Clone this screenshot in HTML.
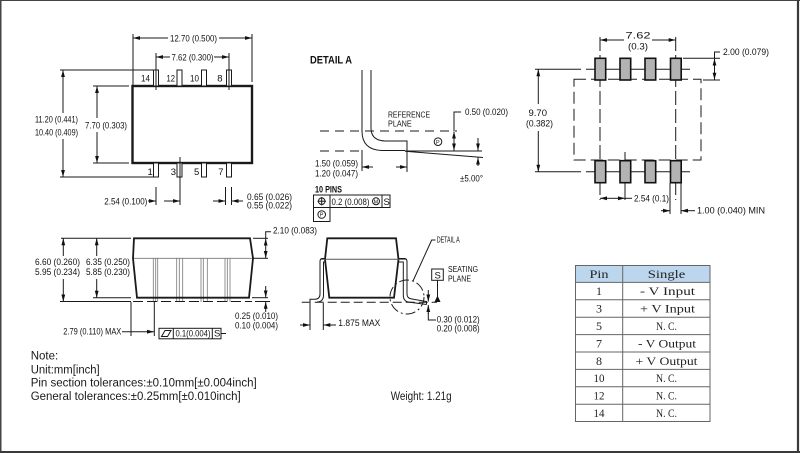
<!DOCTYPE html>
<html><head><meta charset="utf-8"><style>
html,body{margin:0;padding:0;background:#fff;}
svg{display:block;}
.d{font-family:"Liberation Sans",Arial,sans-serif;font-size:9.5px;fill:#111;}
.s{font-family:"Liberation Sans",Arial,sans-serif;font-size:8px;fill:#111;}
.n{font-family:"Liberation Sans",Arial,sans-serif;font-size:11.5px;fill:#1a1a1a;}
.t{font-family:"Liberation Serif","Liberation Mono",serif;font-size:12px;fill:#222;}
.l{stroke:#1a1a1a;stroke-width:1;fill:none;}
.g{stroke:#777;stroke-width:0.8;fill:none;}
</style></head><body>
<svg width="800" height="453" viewBox="0 0 800 453" xmlns="http://www.w3.org/2000/svg">
<defs>
<marker id="a" markerUnits="userSpaceOnUse" markerWidth="7" markerHeight="5" refX="7" refY="2.5" orient="auto-start-reverse"><path d="M0,0.6 L7,2.5 L0,4.4z" fill="#111"/></marker>
</defs>
<rect x="0" y="0" width="800" height="453" fill="#fff"/>
<!-- page frame -->
<line x1="0.75" y1="0" x2="0.75" y2="453" stroke="#444" stroke-width="1.5"/>
<line x1="0" y1="0.5" x2="800" y2="0.5" stroke="#444" stroke-width="1"/>
<line x1="798" y1="0" x2="798" y2="453" stroke="#3a3a3a" stroke-width="2.2"/>
<line x1="0" y1="452" x2="800" y2="452" stroke="#3a3a3a" stroke-width="2"/>

<!-- ============ TOP-LEFT VIEW ============ -->
<g class="l">
<rect x="132.5" y="86" width="119.5" height="77" stroke-width="2.4"/>
<rect x="153.5" y="70" width="5" height="16" fill="#fff"/>
<rect x="177" y="70" width="5" height="16" fill="#fff"/>
<rect x="201.5" y="70" width="5" height="16" fill="#fff"/>
<rect x="226.5" y="70" width="5" height="16" fill="#fff"/>
<rect x="153.5" y="163" width="5" height="14" fill="#fff"/>
<rect x="177" y="163" width="5" height="14" fill="#fff"/>
<rect x="201.5" y="163" width="5" height="14" fill="#fff"/>
<rect x="226.5" y="163" width="5" height="14" fill="#fff"/>
<line x1="133" y1="34" x2="133" y2="86"/>
<line x1="252" y1="34" x2="252" y2="82"/>
<line x1="168" y1="38" x2="133" y2="38" marker-end="url(#a)"/>
<line x1="219" y1="38" x2="252" y2="38" marker-end="url(#a)"/>
<line x1="156" y1="53" x2="156" y2="90"/>
<line x1="229" y1="53" x2="229" y2="90"/>
<line x1="170" y1="57" x2="156" y2="57" marker-end="url(#a)"/>
<line x1="214" y1="57" x2="229" y2="57" marker-end="url(#a)"/>
<line x1="60" y1="70" x2="153" y2="70"/>
<line x1="60" y1="177" x2="153" y2="177"/>
<line x1="63" y1="113" x2="63" y2="70" marker-end="url(#a)"/>
<line x1="63" y1="139" x2="63" y2="177" marker-end="url(#a)"/>
<line x1="93" y1="86" x2="129" y2="86"/>
<line x1="93" y1="163" x2="129" y2="163"/>
<line x1="97" y1="118" x2="97" y2="86" marker-end="url(#a)"/>
<line x1="97" y1="132" x2="97" y2="163" marker-end="url(#a)"/>
<line x1="156" y1="187" x2="156" y2="205"/>
<line x1="180" y1="157" x2="180" y2="205"/>
<line x1="148" y1="201" x2="156" y2="201" marker-end="url(#a)"/>
<line x1="164" y1="201" x2="180" y2="201" marker-end="url(#a)"/>
<line x1="225.5" y1="187" x2="225.5" y2="205"/>
<line x1="231.5" y1="187" x2="231.5" y2="205"/>
<line x1="213" y1="201" x2="225.5" y2="201" marker-end="url(#a)"/>
<line x1="243" y1="201" x2="231.5" y2="201" marker-end="url(#a)"/>
</g>
<text class="d" x="170" y="41.5" textLength="47" lengthAdjust="spacingAndGlyphs">12.70 (0.500)</text>
<text class="d" x="171.5" y="60.5" textLength="42" lengthAdjust="spacingAndGlyphs">7.62 (0.300)</text>
<text class="d" x="141" y="81.7" textLength="9" lengthAdjust="spacingAndGlyphs">14</text>
<text class="d" x="166.5" y="81.7" textLength="8.5" lengthAdjust="spacingAndGlyphs">12</text>
<text class="d" x="190" y="81.7" textLength="9" lengthAdjust="spacingAndGlyphs">10</text>
<text class="d" x="217.3" y="81.7">8</text>
<text class="d" x="147.5" y="175">1</text>
<text class="d" x="170.7" y="175">3</text>
<text class="d" x="194" y="175">5</text>
<text class="d" x="218.3" y="175">7</text>
<text class="d" x="35" y="122.5" textLength="43" lengthAdjust="spacingAndGlyphs">11.20 (0.441)</text>
<text class="d" x="35" y="135.5" textLength="43" lengthAdjust="spacingAndGlyphs">10.40 (0.409)</text>
<text class="d" x="85" y="128.5" textLength="42" lengthAdjust="spacingAndGlyphs">7.70 (0.303)</text>
<text class="d" x="104.3" y="204.5" textLength="43" lengthAdjust="spacingAndGlyphs">2.54 (0.100)</text>
<text class="d" x="247" y="200" textLength="45" lengthAdjust="spacingAndGlyphs">0.65 (0.026)</text>
<text class="d" x="247" y="208.5" textLength="45" lengthAdjust="spacingAndGlyphs">0.55 (0.022)</text>

<!-- ============ DETAIL A ============ -->
<text x="310" y="63.5" textLength="42" lengthAdjust="spacingAndGlyphs" style="font-family:'Liberation Sans',Arial,sans-serif;font-size:11px;font-weight:bold;fill:#111;">DETAIL A</text>
<g class="l">
<path d="M362,70 V131 Q362,150 382,150.5 H405"/>
<path d="M371,70 V128 Q371,140.5 385,141 H407 V152"/>
<line x1="320" y1="131" x2="457" y2="131" stroke-dasharray="9,6"/>
<line x1="320" y1="151" x2="362" y2="151" stroke-dasharray="9,6"/>
<line x1="405" y1="151" x2="482" y2="151"/>
<line x1="405" y1="151.3" x2="483" y2="157.5"/>
<circle cx="438" cy="141.7" r="3.8"/>
<path d="M461,112 H454 V131"/>
<line x1="454" y1="141" x2="454" y2="131.5" marker-end="url(#a)"/>
<line x1="454" y1="141" x2="454" y2="150.5" marker-end="url(#a)"/>
<line x1="478" y1="138" x2="478" y2="150.5" marker-end="url(#a)"/>
<line x1="478" y1="166" x2="478" y2="157.5" marker-end="url(#a)"/>
<line x1="362" y1="150" x2="362" y2="171"/>
<line x1="407" y1="152" x2="407" y2="172"/>
<line x1="373" y1="167" x2="362" y2="167" marker-end="url(#a)"/>
<line x1="396" y1="167" x2="407" y2="167" marker-end="url(#a)"/>
<rect x="313.5" y="195" width="76.5" height="12.5"/>
<line x1="330" y1="195" x2="330" y2="207.5"/>
<line x1="382" y1="195" x2="382" y2="207.5"/>
<rect x="313.5" y="207.5" width="16.5" height="14"/>
<circle cx="321.7" cy="201.2" r="3.3"/>
<line x1="317.5" y1="201.2" x2="326" y2="201.2"/>
<line x1="321.7" y1="197" x2="321.7" y2="205.4"/>
<circle cx="376" cy="201.3" r="3.5"/>
<circle cx="321.7" cy="214.5" r="3.8"/>
</g>
<text x="436" y="143.8" style="font-family:'Liberation Sans',sans-serif;font-size:5.5px;fill:#111;">P</text>
<text x="319.8" y="216.6" style="font-family:'Liberation Sans',sans-serif;font-size:5.5px;fill:#111;">P</text>
<text x="373.6" y="203.4" style="font-family:'Liberation Sans',sans-serif;font-size:5.5px;fill:#111;">M</text>
<text class="s" x="388" y="117.7" textLength="42" lengthAdjust="spacingAndGlyphs">REFERENCE</text>
<text class="s" x="388" y="126.5" textLength="23.7" lengthAdjust="spacingAndGlyphs">PLANE</text>
<text class="d" x="465" y="115" textLength="43" lengthAdjust="spacingAndGlyphs">0.50 (0.020)</text>
<text class="d" x="315" y="166.5" textLength="43" lengthAdjust="spacingAndGlyphs">1.50 (0.059)</text>
<text class="d" x="315" y="176.5" textLength="43" lengthAdjust="spacingAndGlyphs">1.20 (0.047)</text>
<text class="d" x="460" y="181.5" textLength="23" lengthAdjust="spacingAndGlyphs">±5.00°</text>
<text x="315" y="192.5" textLength="27" lengthAdjust="spacingAndGlyphs" style="font-family:'Liberation Sans',sans-serif;font-size:9px;font-weight:bold;fill:#111;">10 PINS</text>
<text class="d" x="331.5" y="205" textLength="38" lengthAdjust="spacingAndGlyphs">0.2 (0.008)</text>
<text class="d" x="383.5" y="205">S</text>

<!-- ============ TOP-RIGHT FOOTPRINT ============ -->
<g class="l">
<line x1="600" y1="37" x2="600" y2="200" stroke-dasharray="14,4"/>
<line x1="675.7" y1="37" x2="675.7" y2="200" stroke-dasharray="14,4"/>
<line x1="625" y1="152" x2="625" y2="200"/>
<line x1="535" y1="69.3" x2="581" y2="69.3"/>
<line x1="586" y1="69.3" x2="690" y2="69.3"/>
<line x1="535" y1="171.7" x2="581" y2="171.7"/>
<line x1="586" y1="171.7" x2="690" y2="171.7"/>
<rect x="574" y="79.3" width="127" height="80.7" stroke-dasharray="12,5"/>
</g>
<g stroke="#111" stroke-width="1.6" fill="#b3b3b3">
<rect x="595" y="58.3" width="10.7" height="21.7"/>
<rect x="620" y="58.3" width="10.7" height="21.7"/>
<rect x="645" y="58.3" width="10.7" height="21.7"/>
<rect x="670.5" y="58.3" width="10.7" height="21.7"/>
<rect x="595" y="160.7" width="10.7" height="22"/>
<rect x="620" y="160.7" width="10.7" height="22"/>
<rect x="645" y="160.7" width="10.7" height="22"/>
<rect x="670.5" y="160.7" width="10.7" height="22"/>
</g>
<g class="l">
<line x1="624" y1="40" x2="600" y2="40" marker-end="url(#a)"/>
<line x1="652" y1="40" x2="675.7" y2="40" marker-end="url(#a)"/>
<line x1="683" y1="58.3" x2="720" y2="58.3"/>
<line x1="703" y1="80" x2="720" y2="80"/>
<path d="M720,52 H714.5 V58"/>
<line x1="714.5" y1="69" x2="714.5" y2="58.6" marker-end="url(#a)"/>
<line x1="714.5" y1="69" x2="714.5" y2="79.7" marker-end="url(#a)"/>
<line x1="538.3" y1="104" x2="538.3" y2="69.3" marker-end="url(#a)"/>
<line x1="538.3" y1="131" x2="538.3" y2="171.7" marker-end="url(#a)"/>
<line x1="612" y1="198.3" x2="600" y2="198.3" marker-end="url(#a)"/>
<line x1="612" y1="198.3" x2="625" y2="198.3" marker-end="url(#a)"/>
<line x1="625" y1="198.3" x2="632" y2="198.3"/>
<line x1="670" y1="183" x2="670" y2="214"/>
<line x1="681" y1="183" x2="681" y2="214"/>
<line x1="661" y1="210.7" x2="670" y2="210.7" marker-end="url(#a)"/>
<line x1="695" y1="210.7" x2="681" y2="210.7" marker-end="url(#a)"/>
</g>
<text class="d" x="625.5" y="38.3" textLength="25" lengthAdjust="spacingAndGlyphs">7.62</text>
<text class="d" x="628" y="49.3" textLength="20" lengthAdjust="spacingAndGlyphs">(0.3)</text>
<text class="d" x="723" y="55" textLength="46" lengthAdjust="spacingAndGlyphs">2.00 (0.079)</text>
<text class="d" x="528.5" y="116" textLength="18.5" lengthAdjust="spacingAndGlyphs">9.70</text>
<text class="d" x="526" y="126.7" textLength="27" lengthAdjust="spacingAndGlyphs">(0.382)</text>
<text class="d" x="634" y="201.7" textLength="35" lengthAdjust="spacingAndGlyphs">2.54 (0.1)</text>
<text class="d" x="697" y="213.5" textLength="68" lengthAdjust="spacingAndGlyphs">1.00 (0.040) MIN</text>

<!-- ============ BOTTOM-LEFT SIDE VIEW ============ -->
<g class="g">
<line x1="133" y1="258.3" x2="253" y2="258.3"/>
<line x1="153.3" y1="258.3" x2="153.3" y2="302"/><line x1="155.7" y1="258.3" x2="155.7" y2="302"/><line x1="157.7" y1="258.3" x2="157.7" y2="302"/>
<line x1="176.7" y1="258.3" x2="176.7" y2="302"/><line x1="179.3" y1="258.3" x2="179.3" y2="302"/><line x1="182.7" y1="258.3" x2="182.7" y2="302"/>
<line x1="201" y1="258.3" x2="201" y2="302"/><line x1="203.3" y1="258.3" x2="203.3" y2="302"/><line x1="207.3" y1="258.3" x2="207.3" y2="302"/>
<line x1="225" y1="258.3" x2="225" y2="302"/><line x1="227.3" y1="258.3" x2="227.3" y2="302"/><line x1="230" y1="258.3" x2="230" y2="302"/>
</g>
<g class="l">
<path d="M134,238.3 L250,238.3 L253,258.3 L249,297.7 L137,297.7 L133,258.3 Z" stroke-width="1.8"/>
<line x1="61" y1="238.3" x2="131" y2="238.3"/>
<line x1="253" y1="238.3" x2="268" y2="238.3"/>
<line x1="253" y1="258.3" x2="268" y2="258.3"/>
<line x1="93" y1="297.7" x2="131" y2="297.7"/>
<line x1="252" y1="297.7" x2="268" y2="297.7"/>
<line x1="60" y1="301.5" x2="131" y2="301.5"/>
<line x1="133" y1="301.5" x2="252" y2="301.5" stroke-dasharray="10,4"/>
<line x1="255" y1="301.5" x2="270" y2="301.5"/>
<line x1="63.3" y1="256" x2="63.3" y2="238.3" marker-end="url(#a)"/>
<line x1="63.3" y1="279" x2="63.3" y2="301.5" marker-end="url(#a)"/>
<line x1="96.7" y1="256" x2="96.7" y2="238.3" marker-end="url(#a)"/>
<line x1="96.7" y1="279" x2="96.7" y2="297.7" marker-end="url(#a)"/>
<path d="M271,231.7 H265.7 V238"/>
<line x1="265.7" y1="248" x2="265.7" y2="238.6" marker-end="url(#a)"/>
<line x1="265.7" y1="248" x2="265.7" y2="258" marker-end="url(#a)"/>
<line x1="265.7" y1="286" x2="265.7" y2="297.4" marker-end="url(#a)"/>
<line x1="265.7" y1="312" x2="265.7" y2="301.8" marker-end="url(#a)"/>
<line x1="131" y1="302" x2="131" y2="336"/>
<line x1="154.3" y1="302" x2="154.3" y2="336"/>
<line x1="122" y1="331.7" x2="154" y2="331.7" marker-end="url(#a)"/>
<rect x="159" y="328.3" width="62" height="10.5"/>
<line x1="173.3" y1="328.3" x2="173.3" y2="338.8"/>
<line x1="212.3" y1="328.3" x2="212.3" y2="338.8"/>
<path d="M161.5,336.5 L165,330.5 L171,330.5 L167.5,336.5 Z"/>
<line x1="221" y1="333.5" x2="226" y2="333.5"/>
</g>
<text class="d" x="35" y="265" textLength="45" lengthAdjust="spacingAndGlyphs">6.60 (0.260)</text>
<text class="d" x="35" y="275" textLength="45" lengthAdjust="spacingAndGlyphs">5.95 (0.234)</text>
<text class="d" x="86" y="265" textLength="44" lengthAdjust="spacingAndGlyphs">6.35 (0.250)</text>
<text class="d" x="86" y="275" textLength="44" lengthAdjust="spacingAndGlyphs">5.85 (0.230)</text>
<text class="d" x="273" y="233.3" textLength="44" lengthAdjust="spacingAndGlyphs">2.10 (0.083)</text>
<text class="d" x="235" y="319" textLength="43" lengthAdjust="spacingAndGlyphs">0.25 (0.010)</text>
<text class="d" x="235" y="328.3" textLength="43" lengthAdjust="spacingAndGlyphs">0.10 (0.004)</text>
<text class="d" x="63.3" y="334.5" textLength="58" lengthAdjust="spacingAndGlyphs">2.79 (0.110) MAX</text>
<text class="d" x="175.5" y="336.5" textLength="35" lengthAdjust="spacingAndGlyphs">0.1(0.004)</text>
<text class="d" x="214" y="336.5">S</text>

<!-- ============ BOTTOM-MIDDLE END VIEW ============ -->
<g class="l">
<path d="M327.3,238.3 L396,238.3 L398.5,259.3 L394,297.7 L329.3,297.7 L325,259.3 Z" stroke-width="1.8"/>
<line x1="321" y1="259.3" x2="406.5" y2="259.3" stroke="#555"/>
<path d="M325,258.5 H322 Q320,258.5 320,262 V294 Q320,299 315,299.3 H310 V302"/>
<path d="M325,262 H323.5 V295 Q323.5,302 317,302"/>
<path d="M398.5,258.5 H404.5 Q407,258.5 407,262 V294 Q407,298.5 412,299 L426.5,301.5 V304.5"/>
<path d="M398.5,262 H403.3 V295 Q403.3,302 410,302.3 L426.5,304.5"/>
<line x1="301.7" y1="302.3" x2="437" y2="302.3" stroke-dasharray="9,4"/>
<circle cx="407" cy="297" r="17" stroke-dasharray="10,3,2,3"/>
<path d="M413,281 L431.7,240 H435.5"/>
<rect x="431.7" y="269" width="11.6" height="11.3"/>
<line x1="437.5" y1="280.3" x2="437.5" y2="297"/>
<line x1="428.3" y1="290" x2="428.3" y2="301.5" marker-end="url(#a)"/>
<line x1="428.3" y1="314" x2="428.3" y2="305" marker-end="url(#a)"/>
<path d="M428.3,313 V320 H436"/>
<line x1="310" y1="303" x2="310" y2="330"/>
<line x1="323.3" y1="303" x2="323.3" y2="330"/>
<line x1="300" y1="325" x2="310" y2="325" marker-end="url(#a)"/>
<line x1="336" y1="325" x2="323.3" y2="325" marker-end="url(#a)"/>
</g>
<path d="M434.5,302 L440.5,302 L437.5,295.5 Z" fill="#111"/>
<text class="s" x="436.7" y="242.3" textLength="23" lengthAdjust="spacingAndGlyphs">DETAIL A</text>
<text class="d" x="434.5" y="278.3">S</text>
<text class="s" x="448" y="272" textLength="30" lengthAdjust="spacingAndGlyphs">SEATING</text>
<text class="s" x="448" y="281.5" textLength="23" lengthAdjust="spacingAndGlyphs">PLANE</text>
<text class="d" x="436.7" y="322.3" textLength="43" lengthAdjust="spacingAndGlyphs">0.30 (0.012)</text>
<text class="d" x="436.7" y="331.5" textLength="43" lengthAdjust="spacingAndGlyphs">0.20 (0.008)</text>
<text class="d" x="338.3" y="326" textLength="42" lengthAdjust="spacingAndGlyphs">1.875 MAX</text>

<!-- ============ TABLE ============ -->
<rect x="575" y="265" width="135" height="17.4" fill="#bcd6ee"/>
<g stroke="#666" stroke-width="1" fill="none">
<rect x="575.5" y="265.5" width="134.5" height="156"/>
<line x1="622.7" y1="265" x2="622.7" y2="421.6"/>
<line x1="575" y1="282.4" x2="710" y2="282.4"/>
<line x1="575" y1="299.8" x2="710" y2="299.8"/>
<line x1="575" y1="317.2" x2="710" y2="317.2"/>
<line x1="575" y1="334.6" x2="710" y2="334.6"/>
<line x1="575" y1="352" x2="710" y2="352"/>
<line x1="575" y1="369.4" x2="710" y2="369.4"/>
<line x1="575" y1="386.8" x2="710" y2="386.8"/>
<line x1="575" y1="404.2" x2="710" y2="404.2"/>
</g>
<g class="t" text-anchor="middle">
<text x="599" y="277.8" textLength="19" lengthAdjust="spacingAndGlyphs">Pin</text>
<text x="666.5" y="277.8" textLength="37.5" lengthAdjust="spacingAndGlyphs">Single</text>
<text x="599" y="295.2">1</text>
<text x="599" y="312.6">3</text>
<text x="599" y="330">5</text>
<text x="599" y="347.4">7</text>
<text x="599" y="364.8">8</text>
<text x="599" y="382.2" textLength="11" lengthAdjust="spacingAndGlyphs">10</text>
<text x="599" y="399.6" textLength="11" lengthAdjust="spacingAndGlyphs">12</text>
<text x="599" y="417" textLength="11" lengthAdjust="spacingAndGlyphs">14</text>
<text x="667.5" y="295.2" textLength="55" lengthAdjust="spacingAndGlyphs">- V Input</text>
<text x="667.5" y="312.6" textLength="55" lengthAdjust="spacingAndGlyphs">+ V Input</text>
<text x="666.5" y="330" textLength="21" lengthAdjust="spacingAndGlyphs">N. C.</text>
<text x="667" y="347.4" textLength="58" lengthAdjust="spacingAndGlyphs">- V Output</text>
<text x="666.5" y="364.8" textLength="62" lengthAdjust="spacingAndGlyphs">+ V Output</text>
<text x="666.5" y="382.2" textLength="21" lengthAdjust="spacingAndGlyphs">N. C.</text>
<text x="666.5" y="399.6" textLength="21" lengthAdjust="spacingAndGlyphs">N. C.</text>
<text x="666.5" y="417" textLength="21" lengthAdjust="spacingAndGlyphs">N. C.</text>
</g>

<!-- ============ NOTES ============ -->
<text class="n" x="30.7" y="359.3">Note:</text>
<text class="n" x="30.7" y="373.3" textLength="69" lengthAdjust="spacingAndGlyphs">Unit:mm[inch]</text>
<text class="n" x="30.7" y="386.7" textLength="226" lengthAdjust="spacingAndGlyphs">Pin section tolerances:±0.10mm[±0.004inch]</text>
<text class="n" x="30.7" y="400" textLength="210" lengthAdjust="spacingAndGlyphs">General tolerances:±0.25mm[±0.010inch]</text>
<text class="n" x="390.7" y="400" textLength="61" lengthAdjust="spacingAndGlyphs">Weight: 1.21g</text>
</svg>
</body></html>
